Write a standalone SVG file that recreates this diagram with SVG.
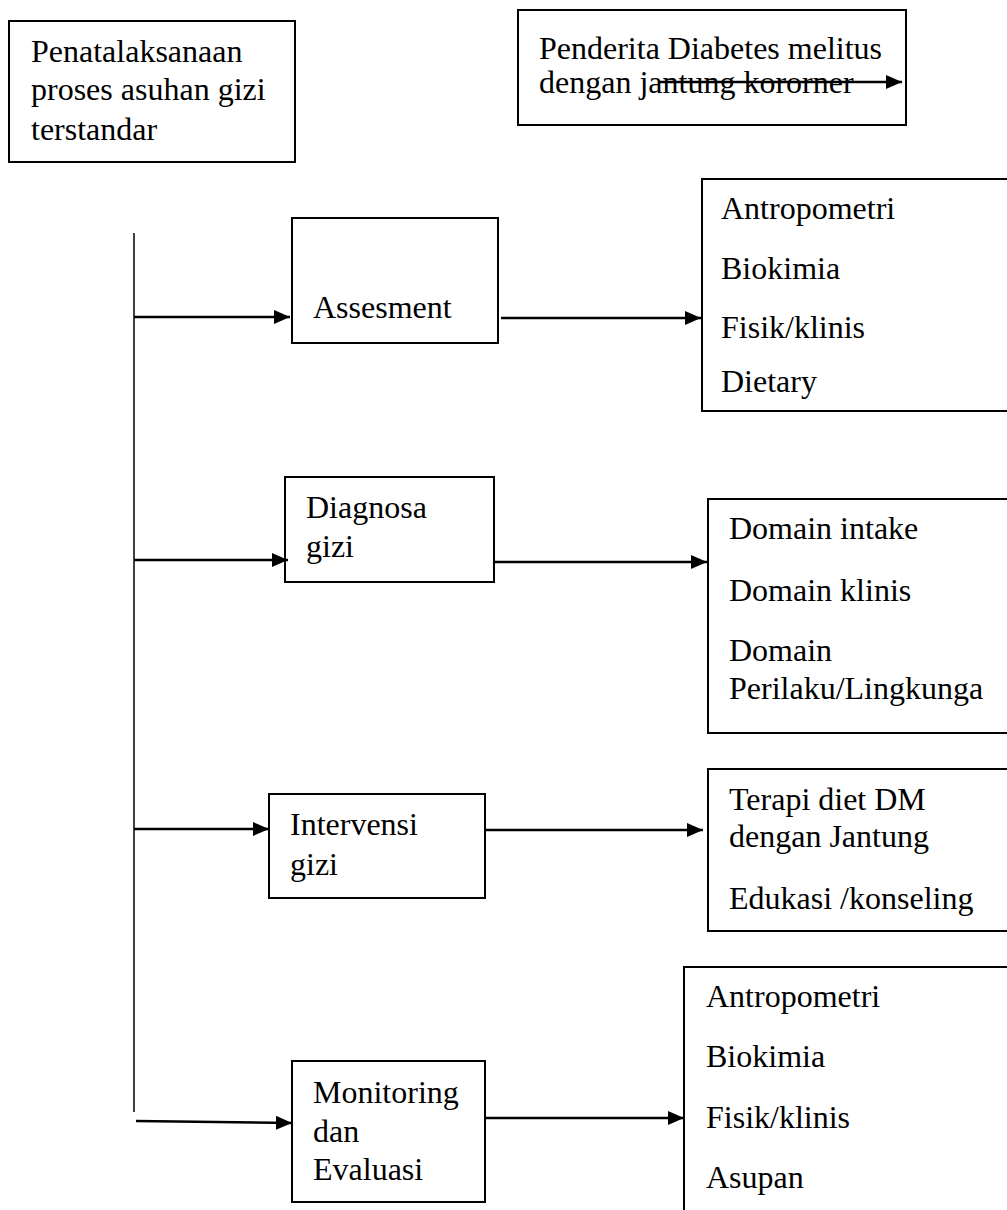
<svg xmlns="http://www.w3.org/2000/svg" width="1007" height="1210" viewBox="0 0 1007 1210">
<style>
.box{fill:none;stroke:#000;stroke-width:2}
.t{font-family:"Liberation Serif","Times New Roman",serif;font-size:32px;fill:#000}
.c{fill:none;stroke:#000;stroke-width:2.5}
.v{fill:none;stroke:#000;stroke-width:1.5}
</style>
<defs>
<marker id="ah" markerUnits="userSpaceOnUse" markerWidth="17" markerHeight="14" refX="16" refY="7" orient="auto">
<path d="M0,0 L16,7 L0,14 z" fill="#000"/>
</marker>
</defs>
<rect width="1007" height="1210" fill="#fff"/>
<g id="title">
<rect class="box" x="9" y="21" width="286" height="141"/>
<text class="t" x="31" y="62">Penatalaksanaan</text>
<text class="t" x="31" y="100">proses asuhan gizi</text>
<text class="t" x="31" y="140">terstandar</text>
</g>
<g id="patient">
<rect class="box" x="518" y="10" width="388" height="115"/>
<text class="t" x="539" y="59">Penderita Diabetes melitus</text>
<text class="t" x="539" y="93">dengan jantung kororner</text>
</g>
<g id="assesment">
<rect class="box" x="292" y="218" width="206" height="125"/>
<text class="t" x="313" y="318">Assesment</text>
</g>
<g id="assesment-items">
<path class="box" d="M1012,179 H702 V411 H1012"/>
<text class="t" x="721" y="219">Antropometri</text>
<text class="t" x="721" y="279">Biokimia</text>
<text class="t" x="721" y="338">Fisik/klinis</text>
<text class="t" x="721" y="392">Dietary</text>
</g>
<g id="diagnosa">
<rect class="box" x="285" y="477" width="209" height="105"/>
<text class="t" x="306" y="518">Diagnosa</text>
<text class="t" x="306" y="557">gizi</text>
</g>
<g id="diagnosa-items">
<path class="box" d="M1012,499 H708 V733 H1012"/>
<text class="t" x="729" y="539">Domain intake</text>
<text class="t" x="729" y="601">Domain klinis</text>
<text class="t" x="729" y="661">Domain</text>
<text class="t" x="729" y="699">Perilaku/Lingkunga</text>
</g>
<g id="intervensi">
<rect class="box" x="269" y="794" width="216" height="104"/>
<text class="t" x="290" y="835">Intervensi</text>
<text class="t" x="290" y="875">gizi</text>
</g>
<g id="intervensi-items">
<path class="box" d="M1012,769 H708 V931 H1012"/>
<text class="t" x="729" y="810">Terapi diet DM</text>
<text class="t" x="729" y="847">dengan Jantung</text>
<text class="t" x="729" y="909">Edukasi /konseling</text>
</g>
<g id="monitoring">
<rect class="box" x="292" y="1061" width="193" height="141"/>
<text class="t" x="313" y="1103">Monitoring</text>
<text class="t" x="313" y="1142">dan</text>
<text class="t" x="313" y="1180">Evaluasi</text>
</g>
<g id="monitoring-items">
<path class="box" d="M1012,967 H684 V1214"/>
<text class="t" x="706" y="1007">Antropometri</text>
<text class="t" x="706" y="1067">Biokimia</text>
<text class="t" x="706" y="1128">Fisik/klinis</text>
<text class="t" x="706" y="1188">Asupan</text>
</g>
<g id="connectors">
<line class="c" x1="658" y1="82" x2="902" y2="82" marker-end="url(#ah)"/>
<line class="v" x1="134" y1="233" x2="134" y2="1112"/>
<line class="c" x1="134" y1="317" x2="290" y2="317" marker-end="url(#ah)"/>
<line class="c" x1="501" y1="318" x2="701" y2="318" marker-end="url(#ah)"/>
<line class="c" x1="134" y1="560" x2="288" y2="560" marker-end="url(#ah)"/>
<line class="c" x1="495" y1="562" x2="707" y2="562" marker-end="url(#ah)"/>
<line class="c" x1="134" y1="829" x2="269" y2="829" marker-end="url(#ah)"/>
<line class="c" x1="486" y1="830" x2="703" y2="830" marker-end="url(#ah)"/>
<line class="c" x1="136" y1="1121" x2="292" y2="1123" marker-end="url(#ah)"/>
<line class="c" x1="486" y1="1118" x2="684" y2="1118" marker-end="url(#ah)"/>
</g>
</svg>
